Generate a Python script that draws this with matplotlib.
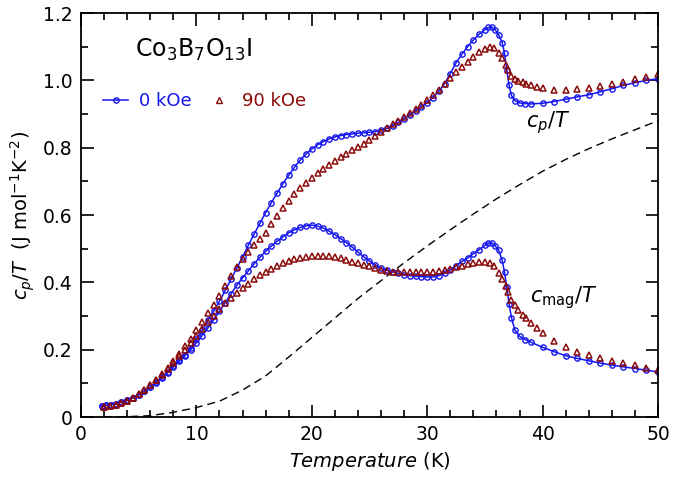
import numpy as np
import matplotlib.pyplot as plt
from matplotlib.lines import Line2D
from matplotlib.ticker import MultipleLocator

# temperature grids (K)
t_0k = [1.8, 2.2, 2.6, 3.0, 3.5, 4.0, 4.5, 5.0, 5.5, 6.0, 6.5, 7.0, 7.5, 8.0, 8.5, 9.0, 9.5,
        10.0, 10.5, 11.0, 11.5, 12.0, 12.5, 13.0, 13.5, 14.0, 14.5, 15.0, 15.5, 16.0, 16.5,
        17.0, 17.5, 18.0, 18.5, 19.0, 19.5, 20.0, 20.5, 21.0, 21.5, 22.0, 22.5, 23.0, 23.5,
        24.0, 24.5, 25.0, 25.5, 26.0, 26.5, 27.0, 27.5, 28.0, 28.5, 29.0, 29.5, 30.0, 30.5,
        31.0, 31.5, 32.0, 32.5, 33.0, 33.5, 34.0, 34.5, 35.0, 35.3, 35.6, 35.9, 36.2, 36.5,
        36.7, 36.9, 37.1, 37.3, 37.6, 38.0, 38.5, 39.0, 40.0, 41.0, 42.0, 43.0, 44.0, 45.0,
        46.0, 47.0, 48.0, 49.0, 50.0]
t_90k = [2.0, 2.5, 3.0, 3.5, 4.0, 4.5, 5.0, 5.5, 6.0, 6.5, 7.0, 7.5, 8.0, 8.5, 9.0, 9.5,
         10.0, 10.5, 11.0, 11.5, 12.0, 12.5, 13.0, 13.5, 14.0, 14.5, 15.0, 15.5, 16.0, 16.5,
         17.0, 17.5, 18.0, 18.5, 19.0, 19.5, 20.0, 20.5, 21.0, 21.5, 22.0, 22.5, 23.0, 23.5,
         24.0, 24.5, 25.0, 25.5, 26.0, 26.5, 27.0, 27.5, 28.0, 28.5, 29.0, 29.5, 30.0, 30.5,
         31.0, 31.5, 32.0, 32.5, 33.0, 33.5, 34.0, 34.5, 35.0, 35.4, 35.8, 36.2, 36.5, 36.8,
         37.0, 37.3, 37.6, 37.9, 38.3, 38.6, 39.0, 39.5, 40.0, 41.0, 42.0, 43.0, 44.0, 45.0,
         46.0, 47.0, 48.0, 49.0, 50.0]

# cp/T, 0 kOe
cp_0k = [0.033, 0.035, 0.037, 0.040, 0.044, 0.050, 0.057, 0.066, 0.077, 0.089, 0.103, 0.118,
         0.134, 0.151, 0.168, 0.185, 0.205, 0.232, 0.258, 0.287, 0.314, 0.344, 0.376, 0.409,
         0.442, 0.475, 0.510, 0.543, 0.575, 0.607, 0.637, 0.665, 0.693, 0.718, 0.742, 0.763,
         0.781, 0.796, 0.808, 0.818, 0.826, 0.832, 0.836, 0.839, 0.841, 0.843, 0.844, 0.846,
         0.848, 0.852, 0.857, 0.865, 0.875, 0.886, 0.898, 0.910, 0.922, 0.934, 0.948, 0.967,
         0.990, 1.020, 1.052, 1.077, 1.100, 1.120, 1.137, 1.150, 1.157, 1.158, 1.150, 1.135,
         1.112, 1.080, 1.030, 0.985, 0.955, 0.940, 0.933, 0.931, 0.930, 0.932, 0.937, 0.944,
         0.951, 0.957, 0.966, 0.975, 0.985, 0.993, 1.000, 1.005]

# cmag/T, 0 kOe
cmag_0k = [0.033, 0.035, 0.037, 0.040, 0.044, 0.050, 0.057, 0.066, 0.076, 0.088, 0.101, 0.115,
           0.131, 0.148, 0.165, 0.182, 0.200, 0.220, 0.242, 0.265, 0.289, 0.314, 0.340, 0.366,
           0.391, 0.413, 0.434, 0.455, 0.474, 0.492, 0.508, 0.522, 0.535, 0.547, 0.556, 0.563,
           0.568, 0.570, 0.567, 0.561, 0.552, 0.542, 0.530, 0.518, 0.505, 0.490, 0.476, 0.463,
           0.452, 0.443, 0.436, 0.431, 0.427, 0.423, 0.420, 0.418, 0.417, 0.416, 0.416, 0.420,
           0.427, 0.437, 0.450, 0.462, 0.472, 0.485, 0.497, 0.510, 0.517, 0.517, 0.508, 0.495,
           0.465, 0.430, 0.385, 0.335, 0.295, 0.258, 0.240, 0.230, 0.222, 0.207, 0.194, 0.182,
           0.174, 0.167, 0.160, 0.154, 0.149, 0.144, 0.139, 0.134]

# cp/T, 90 kOe
cp_90k = [0.030, 0.033, 0.037, 0.042, 0.049, 0.057, 0.068, 0.080, 0.095, 0.111, 0.128, 0.146,
          0.166, 0.188, 0.210, 0.233, 0.257, 0.283, 0.308, 0.333, 0.360, 0.390, 0.418, 0.445,
          0.468, 0.490, 0.510, 0.529, 0.548, 0.572, 0.598, 0.622, 0.643, 0.663, 0.679, 0.695,
          0.711, 0.725, 0.738, 0.749, 0.760, 0.771, 0.782, 0.792, 0.802, 0.812, 0.822, 0.834,
          0.846, 0.858, 0.869, 0.880, 0.891, 0.903, 0.915, 0.928, 0.942, 0.956, 0.970, 0.988,
          1.006, 1.024, 1.040, 1.055, 1.070, 1.083, 1.092, 1.098, 1.095, 1.082, 1.065, 1.045,
          1.030, 1.012, 1.003, 0.998, 0.994, 0.990, 0.986, 0.981, 0.977, 0.972, 0.971, 0.973,
          0.977, 0.983, 0.989, 0.996, 1.003, 1.010, 1.020]

# cmag/T, 90 kOe
cmag_90k = [0.030, 0.033, 0.037, 0.042, 0.049, 0.057, 0.068, 0.080, 0.094, 0.109, 0.125, 0.142,
            0.160, 0.180, 0.200, 0.221, 0.242, 0.262, 0.282, 0.301, 0.320, 0.338, 0.354, 0.369,
            0.382, 0.396, 0.410, 0.422, 0.432, 0.441, 0.449, 0.456, 0.463, 0.468, 0.472, 0.476,
            0.478, 0.479, 0.478, 0.477, 0.475, 0.471, 0.466, 0.461, 0.456, 0.452, 0.448, 0.443,
            0.438, 0.435, 0.432, 0.431, 0.430, 0.430, 0.430, 0.430, 0.430, 0.431, 0.434, 0.437,
            0.441, 0.446, 0.450, 0.453, 0.456, 0.459, 0.461, 0.458, 0.448, 0.427, 0.410, 0.390,
            0.372, 0.349, 0.333, 0.318, 0.303, 0.293, 0.279, 0.263, 0.250, 0.226, 0.207, 0.193,
            0.183, 0.174, 0.166, 0.159, 0.153, 0.147, 0.141]

# lattice contribution (dashed)
t_lat = [2, 4, 6, 8, 10, 12, 14, 16, 18, 20, 22, 24, 26, 28, 30, 32, 34, 36, 38, 40, 42, 44,
         46, 48, 50]
c_lat = [0.0, 0.001, 0.004, 0.014, 0.028, 0.047, 0.080, 0.122, 0.178, 0.236, 0.294, 0.352,
         0.405, 0.458, 0.508, 0.556, 0.603, 0.648, 0.690, 0.730, 0.765, 0.797, 0.826, 0.853,
         0.880]

blue = '#1515f0'
red = '#8b0a0a'

plt.rcParams['font.family'] = 'DejaVu Sans'
plt.rcParams['mathtext.fontset'] = 'dejavusans'

fig = plt.figure(figsize=(6.85, 4.78), dpi=100)
ax = fig.add_axes([0.1182, 0.1276, 0.8424, 0.8452])

ax.plot(t_lat, c_lat, color='black', linestyle=(0, (5.8, 3.6)), linewidth=1.0)

for y in (cp_0k, cmag_0k):
    ax.plot(t_0k, y, color=blue, linewidth=1.1, marker='o', markersize=3.8,
            markerfacecolor='none', markeredgewidth=1.0)
for y in (cp_90k, cmag_90k):
    ax.plot(t_90k, y, linestyle='none', color=red, marker='^', markersize=4.6,
            markerfacecolor='none', markeredgewidth=1.1)

ax.set_xlim(0, 50)
ax.set_ylim(0, 1.2)
ax.xaxis.set_major_locator(MultipleLocator(10))
ax.xaxis.set_minor_locator(MultipleLocator(2))
ax.yaxis.set_minor_locator(MultipleLocator(0.1))
ax.set_yticks([0, 0.2, 0.4, 0.6, 0.8, 1.0, 1.2])
ax.set_yticklabels(['0', '0.2', '0.4', '0.6', '0.8', '1.0', '1.2'])
ax.tick_params(which='both', direction='in', top=True, right=True, labelsize=13.5, width=1.2)
ax.tick_params(which='major', length=9, pad=6)
ax.tick_params(which='minor', length=5)
for s in ax.spines.values():
    s.set_linewidth(1.3)

ax.set_xlabel(r'$\mathit{Temperature}$ (K)', fontsize=14, labelpad=4)
ax.set_ylabel(r'$c_p/T$  (J mol$^{-1}$K$^{-2}$)', fontsize=14, labelpad=4)

ax.text(4.7, 1.09, r'Co$_3$B$_7$O$_{13}$I', fontsize=17, va='center')
ax.text(40.5, 0.875, r'$c_p/T$', fontsize=15, ha='center', va='center')
ax.text(41.8, 0.355, r'$c_{\mathrm{mag}}/T$', fontsize=15, ha='center', va='center')

handles = [Line2D([], [], color=blue, linewidth=1.1, marker='o', markersize=3.8,
                  markerfacecolor='none'),
           Line2D([], [], linestyle='none', color=red, marker='^', markersize=4.6,
                  markerfacecolor='none')]
ax.legend(handles, ['0 kOe', '90 kOe'], loc='upper left', bbox_to_anchor=(0.01, 0.845),
          ncol=2, frameon=False, fontsize=13, handlelength=1.4, handletextpad=0.6,
          columnspacing=0.8, labelcolor=[blue, red])

fig.savefig('out.png', dpi=100)
